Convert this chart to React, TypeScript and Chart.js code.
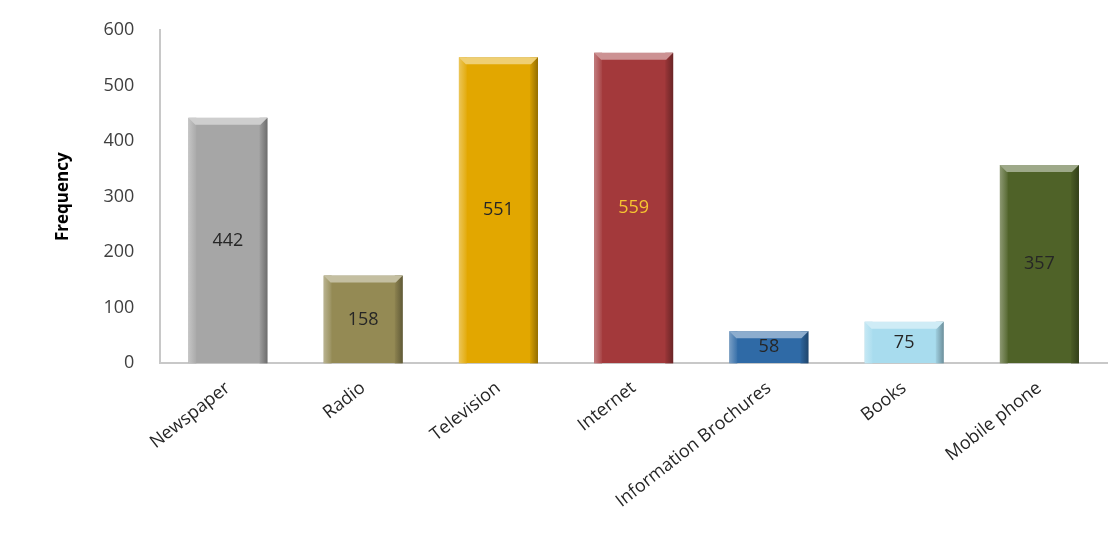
import React, { useEffect, useRef } from "react";
import { Chart, registerables } from "chart.js";

Chart.register(...registerables);

const categories = ["Newspaper", "Radio", "Television", "Internet", "Information Brochures", "Books", "Mobile phone"];
const frequencies = [442, 158, 551, 559, 58, 75, 357];
const barColors = ["#a6a6a6", "#948a54", "#e2a700", "#a3393b", "#2f6aa6", "#a8dcee", "#4f6228"];
const labelColors = ["#262626", "#262626", "#262626", "#f7c531", "#262626", "#262626", "#262626"];
const yTicks = [0, 100, 200, 300, 400, 500, 600];

const FONT = "'Open Sans', 'DejaVu Sans', sans-serif";

function shade(hex: string, amt: number): string {
  const n = parseInt(hex.slice(1), 16);
  let r = (n >> 16) & 255, g = (n >> 8) & 255, b = n & 255;
  const f = (c: number) => Math.max(0, Math.min(255, Math.round(amt >= 0 ? c + (255 - c) * amt : c * (1 + amt))));
  return `rgb(${f(r)},${f(g)},${f(b)})`;
}

const bevelPlugin = {
  id: "bevel",
  afterDatasetsDraw(chart: any) {
    const ctx = chart.ctx;
    const meta = chart.getDatasetMeta(0);
    meta.data.forEach((bar: any, i: number) => {
      const { x, y, base, width } = bar.getProps(["x", "y", "base", "width"], true);
      const l = x - width / 2, r = x + width / 2;
      const c = barColors[i];
      ctx.save();
      const gl = ctx.createLinearGradient(l, 0, l + 8, 0);
      gl.addColorStop(0, shade(c, 0.35));
      gl.addColorStop(1, shade(c, 0.05));
      ctx.fillStyle = gl;
      ctx.fillRect(l, y, 8, base - y);
      const gr = ctx.createLinearGradient(r - 8, 0, r, 0);
      gr.addColorStop(0, shade(c, -0.05));
      gr.addColorStop(1, shade(c, -0.35));
      ctx.fillStyle = gr;
      ctx.fillRect(r - 8, y, 8, base - y);
      ctx.beginPath();
      ctx.moveTo(l, y);
      ctx.lineTo(r, y);
      ctx.lineTo(r - 7, y + 7);
      ctx.lineTo(l + 7, y + 7);
      ctx.closePath();
      ctx.fillStyle = shade(c, 0.45);
      ctx.fill();
      ctx.fillStyle = labelColors[i];
      ctx.font = `18px ${FONT}`;
      ctx.textAlign = "center";
      ctx.textBaseline = "middle";
      ctx.fillText(String(frequencies[i]), x, (y + base) / 2);
      ctx.restore();
    });
  },
};

export default function App() {
  const ref = useRef<HTMLCanvasElement>(null);
  useEffect(() => {
    document.body.style.margin = "0";
    const chart = new Chart(ref.current!, {
      type: "bar",
      data: {
        labels: categories,
        datasets: [
          {
            data: frequencies,
            backgroundColor: barColors,
            borderColor: barColors.map((c) => shade(c, -0.2)),
            borderWidth: 1,
            barPercentage: 0.585,
            categoryPercentage: 1,
          },
        ],
      },
      options: {
        animation: false,
        responsive: false,
        layout: { padding: { left: 53, top: 30, right: 2, bottom: 12 } },
        plugins: { legend: { display: false }, tooltip: { enabled: false } },
        scales: {
          x: {
            grid: { display: false, drawTicks: false },
            border: { color: "#c8c8c8", width: 2 },
            ticks: {
              color: "#262626",
              font: { family: FONT, size: 18 },
              maxRotation: 38,
              minRotation: 38,
              padding: 14,
            },
          },
          y: {
            min: 0,
            max: 600,
            afterBuildTicks: (axis: any) => {
              axis.ticks = yTicks.map((v) => ({ value: v }));
            },
            afterFit: (axis: any) => {
              axis.paddingTop = 0;
            },
            grid: { display: false, drawTicks: false },
            border: { color: "#c8c8c8", width: 2 },
            ticks: {
              color: "#404040",
              font: { family: FONT, size: 18 },
              padding: 26,
            },
            title: {
              display: true,
              text: "Frequency",
              color: "#000000",
              font: { family: FONT, size: 17, weight: "bold" },
              padding: { top: 0, bottom: 4 },
            },
          },
        },
      },
      plugins: [bevelPlugin],
    });
    return () => chart.destroy();
  }, []);
  return <canvas ref={ref} width={1109} height={538} style={{ display: "block" }} />;
}
